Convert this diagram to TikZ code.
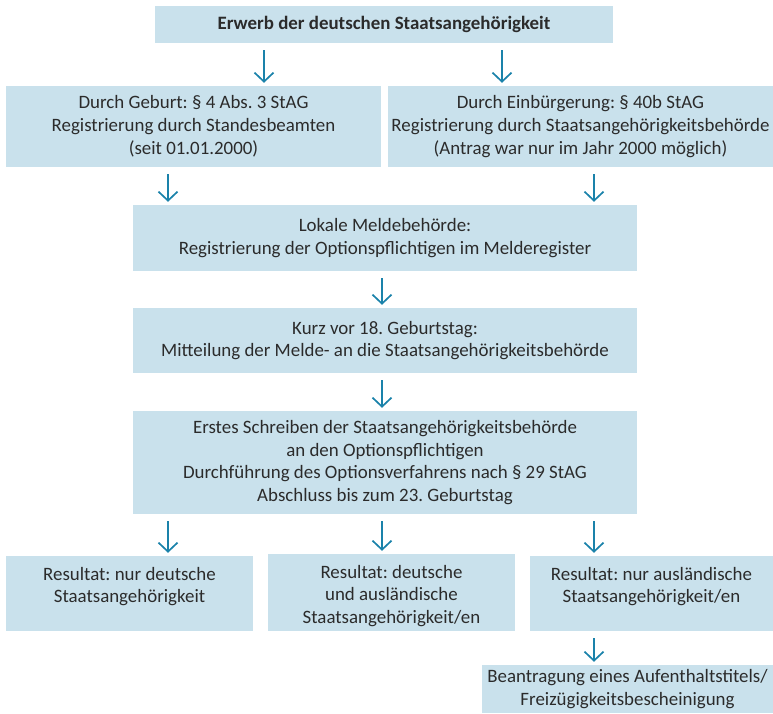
\documentclass[tikz,border=0pt]{standalone}
\usepackage{fontspec}
\setmainfont{Carlito}
\usetikzlibrary{arrows.meta}
\definecolor{boxblue}{HTML}{C9E1EC}
\definecolor{arrblue}{HTML}{1A82AA}
\definecolor{txtgray}{HTML}{2B2B2B}
\frenchspacing
\tikzset{
  box/.style={fill=boxblue, inner sep=0pt, align=center, text=txtgray,
    font=\fontsize{18.9}{22.8}\selectfont},
  txt/.style={inner sep=0pt, align=center, text=txtgray,
    font=\fontsize{18.9}{22.8}\selectfont},
  arr/.style={draw=arrblue, line width=1.7pt,
    -{Straight Barb[length=9pt,width=19pt,line width=1.7pt]},
    shorten <=7pt, shorten >=3pt},
}
\begin{document}
\begin{tikzpicture}[x=1pt,y=-1pt]
\useasboundingbox (0,0) rectangle (773,713);
% boxes
\node[box, minimum width=458pt, minimum height=37pt] (b1) at (384,24.5)
  {\bfseries Erwerb der deutschen Staatsangehörigkeit};
\node[box, minimum width=375pt, minimum height=81pt] (b2) at (193.5,126.5)
  {Durch Geburt: § 4 Abs. 3 StAG\\Registrierung durch Standesbeamten\\(seit 01.01.2000)};
\node[box, minimum width=385pt, minimum height=81pt] (b3) at (580.5,126.5)
  {Durch Einbürgerung: § 40b StAG\\Registrierung durch Staatsangehörigkeitsbehörde\\(Antrag war nur im Jahr 2000 möglich)};
\node[box, minimum width=504pt, minimum height=66pt] (b4) at (385,238)
  {Lokale Meldebehörde:\\Registrierung der Optionspflichtigen im Melderegister};
\node[box, minimum width=504pt, minimum height=65pt] (b5) at (385,340.5)
  {Kurz vor 18. Geburtstag:\\Mitteilung der Melde- an die Staatsangehörigkeitsbehörde};
\node[box, minimum width=504pt, minimum height=103pt] (b6) at (385,462.5)
  {Erstes Schreiben der Staatsangehörigkeitsbehörde\\an den Optionspflichtigen\\Durchführung des Optionsverfahrens nach § 29 StAG\\Abschluss bis zum 23. Geburtstag};
\node[box, minimum width=247pt, minimum height=75pt] (b7) at (129.5,593.5) {};
\node[box, minimum width=247pt, minimum height=77pt] (b8) at (391.5,592.5) {};
\node[box, minimum width=243pt, minimum height=75pt] (b9) at (651.5,593.5) {};
\node[box, minimum width=291pt, minimum height=48pt] (b10) at (627.5,689)
  {Beantragung eines Aufenthaltstitels/\\Freizügigkeitsbescheinigung};
% texts of the result boxes
\node[txt, anchor=north] (t7) at ([yshift=-11pt]b7.north) {Resultat: nur deutsche\\Staatsangehörigkeit};
\node[txt, anchor=north] (t8) at ([yshift=-11pt]b8.north) {Resultat: deutsche\\und ausländische\\Staatsangehörigkeit/en};
\node[txt, anchor=north] (t9) at ([yshift=-11pt]b9.north) {Resultat: nur ausländische\\Staatsangehörigkeit/en};
% arrow columns
\coordinate (xa) at (264,0);
\coordinate (xb) at (502,0);
\coordinate (xc) at (168,0);
\coordinate (xd) at (594,0);
\coordinate (xe) at (382,0);
% arrows
\draw[arr] (b1.south -| xa) -- (b2.north -| xa);
\draw[arr] (b1.south -| xb) -- (b3.north -| xb);
\draw[arr] (b2.south -| xc) -- (b4.north -| xc);
\draw[arr] (b3.south -| xd) -- (b4.north -| xd);
\draw[arr] (b4.south -| xe) -- (b5.north -| xe);
\draw[arr] (b5.south -| xe) -- (b6.north -| xe);
\draw[arr] (b6.south -| xc) -- (b7.north -| xc);
\draw[arr] (b6.south -| xe) -- (b8.north -| xe);
\draw[arr] (b6.south -| xd) -- (b9.north -| xd);
\draw[arr] (b9.south -| xd) -- (b10.north -| xd);
\end{tikzpicture}
\end{document}
